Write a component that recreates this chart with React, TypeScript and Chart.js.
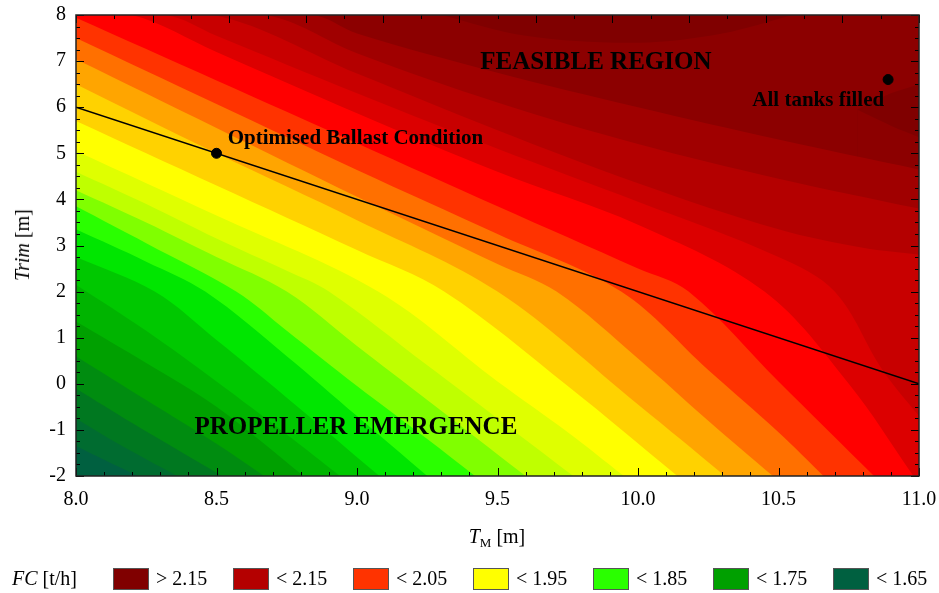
import React, { useEffect, useRef } from "react";
import { Chart, registerables } from "chart.js";

Chart.register(...registerables);

const FONT = '"Liberation Serif", "Times New Roman", serif';

// Contour levels of FC [t/h] (boundary k separates bandColors[k] below from bandColors[k+1] above)
const levels = [1.65, 1.675, 1.7, 1.725, 1.75, 1.775, 1.8, 1.825, 1.85, 1.875, 1.9, 1.925, 1.95, 1.975, 2.0, 2.025, 2.05, 2.075, 2.1, 2.125, 2.15, 2.175];

const bandColors = [
  "#006040", "#006c30", "#007820", "#008c10", "#00a000", "#00b400", "#00c800", "#00e600",
  "#2aff00", "#80ff00", "#bfff00", "#dfff00", "#ffff00", "#ffd200", "#ffa500", "#ff7000",
  "#ff3300", "#ff0000", "#dc0000", "#c80000", "#b40000", "#a00000", "#8c0000", "#800000",
];

// Boundary polylines [TM, Trim]
const fc1650 = [[8.0, -1.35], [8.1, -1.65], [8.22, -2.0]];
const fc1675 = [[8.0, -0.75], [8.15, -1.3], [8.36, -2.0]];
const fc1700 = [[8.0, -0.1], [8.2, -0.85], [8.52, -2.0]];
const fc1725 = [[8.0, 0.6], [8.25, -0.35], [8.5, -1.3], [8.67, -2.0]];
const fc1750 = [[8.0, 1.35], [8.25, 0.45], [8.5, -0.5], [8.81, -2.0]];
const fc1775 = [[8.0, 2.15], [8.25, 1.15], [8.5, 0.05], [8.75, -1.1], [8.94, -2.0]];
const fc1800 = [[8.0, 2.75], [8.28, 2.0], [8.5, 0.95], [8.75, -0.3], [9.08, -2.0]];
const fc1825 = [[8.0, 3.35], [8.25, 2.65], [8.46, 2.0], [8.75, 0.6], [9.0, -0.7], [9.25, -2.0]];
const fc1850 = [[8.0, 3.85], [8.25, 3.05], [8.57, 2.0], [8.75, 1.15], [9.0, -0.05], [9.25, -1.2], [9.42, -2.0]];
const fc1875 = [[8.0, 4.2], [8.25, 3.5], [8.5, 2.75], [8.75, 2.0], [9.0, 0.82], [9.25, -0.35], [9.6, -2.0]];
const fc1900 = [[8.0, 4.6], [8.25, 3.9], [8.5, 3.15], [8.75, 2.45], [8.9, 2.0], [9.25, 0.4], [9.5, -0.75], [9.77, -2.0]];
const fc1925 = [[8.0, 5.05], [8.5, 3.65], [9.075, 2.0], [9.5, 0.05], [9.75, -1.05], [9.95, -2.0]];
const fc1950 = [[8.0, 5.7], [8.5, 4.3], [9.0, 2.9], [9.31, 2.0], [9.75, -0.05], [10.14, -2.0]];
const fc1975 = [[8.0, 6.5], [8.5, 5.0], [9.0, 3.55], [9.5, 2.0], [10.0, -0.45], [10.31, -2.0]];
const fc2000 = [[8.0, 7.04], [8.5, 5.55], [9.0, 4.06], [9.5, 2.6], [9.71, 2.0], [10.0, 0.55], [10.25, -0.8], [10.48, -2.0]];
const fc2025 = [[8.0, 7.5], [8.5, 6.07], [9.0, 4.64], [9.5, 3.25], [9.94, 2.0], [10.25, 0.3], [10.5, -1.05], [10.66, -2.0]];
const fc2050 = [[8.0, 7.94], [8.5, 6.58], [9.0, 5.22], [9.5, 3.85], [10.0, 2.5], [10.18, 2.0], [10.5, 0.05], [10.84, -2.0]];
const fc2075 = [[8.0, 8.0], [8.2, 8.0], [8.5, 7.2], [9.0, 5.87], [9.5, 4.6], [10.0, 3.45], [10.45, 2.0], [10.75, 0.0], [10.98, -2.0]];
const fc2100 = [[8.0, 8.0], [8.32, 8.0], [8.5, 7.55], [9.0, 6.3], [9.5, 5.1], [10.0, 3.95], [10.5, 2.75], [10.7, 2.0], [10.87, 0.3], [11.0, -0.7]];
const fc2125 = [[8.0, 8.0], [8.49, 8.0], [9.0, 6.73], [9.5, 5.5], [10.0, 4.35], [10.5, 3.35], [10.8, 2.95], [11.0, 2.8]];
const fc2150 = [[8.0, 8.0], [8.67, 8.0], [9.0, 7.17], [9.5, 6.1], [10.0, 5.2], [10.5, 4.45], [11.0, 3.8]];
const fc2175 = [[8.0, 8.0], [8.84, 8.0], [9.0, 7.6], [9.5, 6.75], [10.0, 6.0], [10.5, 5.3], [11.0, 4.65]];

const boundaries = [
  fc1650, fc1675, fc1700, fc1725, fc1750, fc1775, fc1800, fc1825, fc1850, fc1875, fc1900,
  fc1925, fc1950, fc1975, fc2000, fc2025, fc2050, fc2075, fc2100, fc2125, fc2150, fc2175,
];

// Highest-FC patches (> 2.2)
const peakTop = [[9.3, 8.0], [9.6, 7.55], [10.0, 7.4], [10.3, 7.6], [10.55, 8.0]];
const peakRightUpper = [[10.78, 5.95], [10.9, 6.3], [11.0, 6.5]];
const peakRightLower = [[10.78, 5.95], [10.9, 5.6], [11.0, 5.35]];

// Ballast line and marked conditions
const ballastLine = [[8.0, 6.0], [11.0, 0.0]];
const conditionPoints = [[8.5, 5.0], [10.89, 6.6]];

// Annotation texts
const noteTexts = ["FEASIBLE REGION", "PROPELLER EMERGENCE", "Optimised Ballast Condition", "All tanks filled"];
const noteX = [9.85, 8.996, 8.54, 10.876];
const noteY = [6.96, -0.94, 5.33, 6.14];
const noteAlign = ["center", "center", "left", "right"];
const noteSize = [25, 25, 21, 21];

// Legend
const legendLabels = ["> 2.15", "< 2.15", "< 2.05", "< 1.95", "< 1.85", "< 1.75", "< 1.65"];
const legendColors = ["#800000", "#b40000", "#ff3300", "#ffff00", "#2aff00", "#00a000", "#006040"];

const toXY = (pts: number[][]) => pts.map((p) => ({ x: p[0], y: p[1] }));

const backgroundPlugin = {
  id: "bgFill",
  beforeDatasetsDraw(chart: any) {
    const { ctx, chartArea } = chart;
    ctx.save();
    ctx.fillStyle = bandColors[22];
    ctx.fillRect(chartArea.left, chartArea.top, chartArea.right - chartArea.left, chartArea.bottom - chartArea.top);
    ctx.restore();
  },
};

const framePlugin = {
  id: "frame",
  afterDatasetsDraw(chart: any) {
    const { ctx, chartArea, scales } = chart;
    const { left, right, top, bottom } = chartArea;
    const xs = scales.x;
    const ys = scales.y;
    ctx.save();
    ctx.strokeStyle = "#000";
    ctx.lineWidth = 1;
    ctx.beginPath();
    for (let i = 0; i <= 30; i++) {
      const v = 8 + i * 0.1;
      const px = Math.round(xs.getPixelForValue(v)) + 0.5;
      const len = i % 5 === 0 ? 8 : 4;
      ctx.moveTo(px, bottom);
      ctx.lineTo(px, bottom - len);
    }
    for (let i = 0; i <= 22; i++) {
      const px = Math.round(left + ((right - left) * i) / 22) + 0.5;
      const len = i % 2 === 0 ? 8 : 4;
      ctx.moveTo(px, top);
      ctx.lineTo(px, top + len);
    }
    for (let i = 0; i <= 40; i++) {
      const v = -2 + i * 0.25;
      const py = Math.round(ys.getPixelForValue(v)) + 0.5;
      const len = i % 4 === 0 ? 8 : 4;
      ctx.moveTo(left, py);
      ctx.lineTo(left + len, py);
      ctx.moveTo(right, py);
      ctx.lineTo(right - len, py);
    }
    ctx.stroke();
    ctx.lineWidth = 1.5;
    ctx.strokeStyle = "#222";
    ctx.strokeRect(left, top, right - left, bottom - top);
    ctx.restore();
  },
  afterDraw(chart: any) {
    const { ctx, scales } = chart;
    ctx.save();
    ctx.fillStyle = "#000";
    ctx.textBaseline = "middle";
    for (let i = 0; i < noteTexts.length; i++) {
      ctx.font = `bold ${noteSize[i]}px ${FONT}`;
      ctx.textAlign = noteAlign[i] as CanvasTextAlign;
      ctx.fillText(noteTexts[i], scales.x.getPixelForValue(noteX[i]), scales.y.getPixelForValue(noteY[i]));
    }
    ctx.restore();
  },
};

export default function App() {
  const canvasRef = useRef<HTMLCanvasElement | null>(null);

  useEffect(() => {
    document.body.style.margin = "0";
    const canvas = canvasRef.current;
    if (!canvas) return;

    const datasets: any[] = [];
    datasets.push({
      data: toXY(peakRightUpper), fill: "start", backgroundColor: bandColors[23],
      borderWidth: 0, borderColor: "transparent", pointRadius: 0, tension: 0.3, order: 60,
    });
    datasets.push({
      data: toXY(peakRightLower), fill: "start", backgroundColor: bandColors[22],
      borderWidth: 0, borderColor: "transparent", pointRadius: 0, tension: 0.3, order: 59,
    });
    datasets.push({
      data: toXY(peakTop), fill: "end", backgroundColor: bandColors[23],
      borderWidth: 0, borderColor: "transparent", pointRadius: 0, tension: 0.35, order: 58,
    });
    boundaries.forEach((b, k) => {
      datasets.push({
        label: `FC ${levels[k]}`,
        data: toXY(b), fill: "start", backgroundColor: bandColors[k],
        borderWidth: 0, borderColor: "transparent", pointRadius: 0, tension: 0.35, order: 10 + k,
      });
    });
    datasets.push({
      data: toXY(ballastLine), fill: false, borderColor: "#000", borderWidth: 1.6,
      pointRadius: 0, order: 1,
    });
    datasets.push({
      data: toXY(conditionPoints), showLine: false, fill: false, pointRadius: 5,
      pointBackgroundColor: "#000", pointBorderColor: "#000", order: 0,
    });

    const chart = new Chart(canvas, {
      type: "line",
      data: { datasets },
      options: {
        responsive: false,
        animation: false,
        devicePixelRatio: 1,
        layout: { padding: { top: 15, right: 20, left: 0, bottom: 0 } },
        plugins: { legend: { display: false }, tooltip: { enabled: false } },
        scales: {
          x: {
            type: "linear", min: 8, max: 11, position: "bottom",
            grid: { display: false, drawTicks: false },
            border: { display: false },
            ticks: {
              stepSize: 0.5, padding: 12, color: "#000", autoSkip: false, maxRotation: 0,
              font: { family: FONT, size: 20 },
              callback: (v: any) => Number(v).toFixed(1),
            },
            afterFit: (s: any) => { s.height = 117; s.paddingLeft = 0; s.paddingRight = 0; },
          },
          y: {
            type: "linear", min: -2, max: 8,
            grid: { display: false, drawTicks: false },
            border: { display: false },
            ticks: {
              stepSize: 1, padding: 10, color: "#000",
              font: { family: FONT, size: 20 },
              callback: (v: any) => String(v),
            },
            afterFit: (s: any) => { s.width = 76; s.paddingTop = 0; s.paddingBottom = 0; },
          },
        },
      },
      plugins: [backgroundPlugin, framePlugin],
    });

    return () => chart.destroy();
  }, []);

  return (
    <div style={{ position: "relative", width: 939, height: 593, background: "#fff", fontFamily: FONT, color: "#000" }}>
      <canvas ref={canvasRef} width={939} height={593} style={{ position: "absolute", left: 0, top: 0 }} />
      <div
        style={{
          position: "absolute", left: 22, top: 245, fontSize: 20, whiteSpace: "nowrap", lineHeight: 1,
          transform: "translate(-50%, -50%) rotate(-90deg)",
        }}
      >
        <i>Trim</i> [m]
      </div>
      <div
        style={{
          position: "absolute", left: 497, top: 526, fontSize: 20, whiteSpace: "nowrap", lineHeight: 1,
          transform: "translateX(-50%)",
        }}
      >
        <i>T</i>
        <sub style={{ fontSize: 13, verticalAlign: "-4px" }}>M</sub> [m]
      </div>
      <div style={{ position: "absolute", left: 12, top: 567, fontSize: 20, lineHeight: "22px", whiteSpace: "nowrap" }}>
        <i>FC</i> [t/h]
      </div>
      {legendLabels.map((lab, i) => (
        <React.Fragment key={lab}>
          <div
            style={{
              position: "absolute", left: 113 + 120 * i, top: 568, width: 34, height: 20,
              background: legendColors[i], border: "1px solid #555",
            }}
          />
          <div style={{ position: "absolute", left: 156 + 120 * i, top: 567, fontSize: 20, lineHeight: "22px", whiteSpace: "nowrap" }}>
            {lab}
          </div>
        </React.Fragment>
      ))}
    </div>
  );
}
